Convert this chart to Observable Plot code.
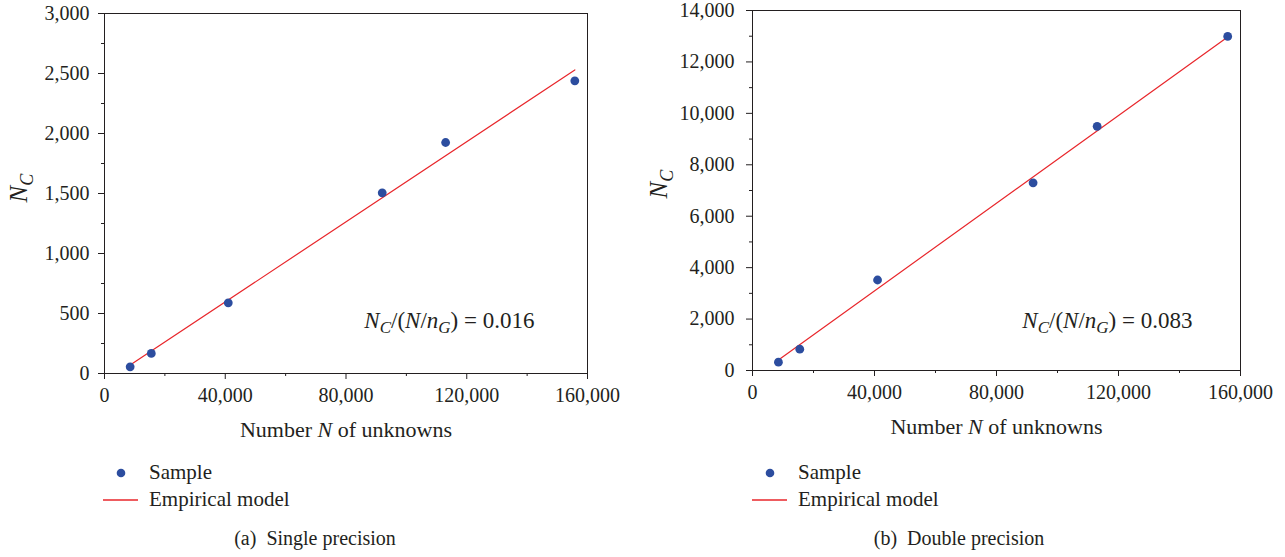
<!DOCTYPE html>
<html>
<head>
<meta charset="utf-8">
<script src="https://cdn.jsdelivr.net/npm/d3@7"></script>
<script src="https://cdn.jsdelivr.net/npm/@observablehq/plot@0.6"></script>
<style>
  html, body { margin: 0; padding: 0; background: #fff; }
  body { font-family: "Liberation Serif", "DejaVu Serif", serif; color: #231f20; }
  #wrap { position: relative; width: 1285px; height: 557px; overflow: hidden; }
  .panel { position: absolute; top: 0; }
  .legend { position: absolute; font-size: 21px; }
  .legend .row { display: flex; align-items: center; height: 27px; }
  .legend svg { margin-right: 7px; flex: none; }
  .caption { position: absolute; font-size: 20px; white-space: pre; transform: translateX(-50%); top: 527px; }
</style>
</head>
<body>
<div id="wrap"></div>
<script>
// ---------- data ----------
const sampleN      = [8500, 15500, 41000, 92000, 113000, 155800];
const singleNC     = [56, 167, 589, 1506, 1925, 2439];
const doubleNC     = [323, 828, 3519, 7298, 9497, 12991];
const modelN       = [8500, 155800];
const singleModel  = [70, 2530];
const doubleModel  = [410, 12970];
const xTicks       = [0, 40000, 80000, 120000, 160000];
const xMinor       = [20000, 60000, 100000, 140000];
const singleYTicks = [0, 500, 1000, 1500, 2000, 2500, 3000];
const singleYMinor = [250, 750, 1250, 1750, 2250, 2750];
const doubleYTicks = [0, 2000, 4000, 6000, 8000, 10000, 12000, 14000];
const doubleYMinor = [1000, 3000, 5000, 7000, 9000, 11000, 13000];
const legendLabels = ["Sample", "Empirical model"];
const captions     = ["(a)  Single precision", "(b)  Double precision"];
const ratioText    = ["0.016", "0.083"];

const DOT = "#2c4d9f", RED = "#e8262b", INK = "#231f20";
const fmt = d3.format(",");

function richify(svg, token, parts, subSize, shift) {
  svg.querySelectorAll("text").forEach(t => {
    if (t.textContent !== token) return;
    t.textContent = "";
    let inSub = false;
    parts.forEach(p => {
      const ts = document.createElementNS("http://www.w3.org/2000/svg", "tspan");
      ts.textContent = p.t;
      if (p.i) ts.setAttribute("font-style", "italic");
      if (p.sub) { ts.setAttribute("font-size", subSize + "px"); ts.setAttribute("dy", shift + "px"); inSub = true; }
      else if (inSub) { ts.setAttribute("dy", (-shift) + "px"); inSub = false; }
      t.appendChild(ts);
    });
  });
}

function panel(cfg) {
  const pts = sampleN.map((n, i) => ({n, nc: cfg.values[i]}));
  const mdl = modelN.map((n, i) => ({n, nc: cfg.model[i]}));
  const svg = Plot.plot({
    width: cfg.width, height: 445,
    marginLeft: cfg.ml, marginRight: cfg.mr, marginTop: cfg.mt, marginBottom: 445 - cfg.bottom,
    style: {fontFamily: "'Liberation Serif', serif", fontSize: "20px", color: INK, background: "white", overflow: "visible"},
    x: {domain: [0, 160000]},
    y: {domain: [0, cfg.yMax]},
    marks: [
      Plot.axisX({ticks: xTicks, tickSize: 6, tickPadding: 8, tickFormat: fmt, label: null, stroke: INK, fill: INK}),
      Plot.axisX({ticks: xMinor, tickSize: 3, tickFormat: () => "", label: null, stroke: INK}),
      Plot.axisY({ticks: cfg.yTicks, tickSize: 6, tickPadding: cfg.tp, tickFormat: fmt, label: null, stroke: INK, fill: INK}),
      Plot.axisY({ticks: cfg.yMinor, tickSize: 3, tickFormat: () => "", label: null, stroke: INK}),
      Plot.frame({stroke: INK, strokeWidth: 1}),
      Plot.line(mdl, {x: "n", y: "nc", stroke: RED, strokeWidth: 1.2}),
      Plot.dot(pts, {x: "n", y: "nc", r: 4.4, fill: DOT, stroke: null}),
      Plot.text(["@@YLABEL"], {frameAnchor: "left", rotate: -90, dx: cfg.yLabelDx, dy: cfg.yLabelDy, fill: INK, fontSize: 25, lineAnchor: "middle"}),
      Plot.text(["@@XLABEL"], {frameAnchor: "bottom", dy: cfg.xLabelDy, fill: INK, fontSize: 22, lineAnchor: "middle"}),
      Plot.text(["@@RATIO"], {frameAnchor: "bottom-right", dx: cfg.annDx, dy: cfg.annDy, textAnchor: "end", fill: INK, fontSize: 23, lineAnchor: "middle"})
    ]
  });
  richify(svg, "@@YLABEL", [{t: "N", i: true}, {t: "C", i: true, sub: true}], 18, 6);
  richify(svg, "@@XLABEL", [{t: "Number "}, {t: "N", i: true}, {t: " of unknowns"}], 16, 5);
  richify(svg, "@@RATIO", [{t: "N", i: true}, {t: "C", i: true, sub: true}, {t: "/("}, {t: "N", i: true}, {t: "/"}, {t: "n", i: true}, {t: "G", i: true, sub: true}, {t: ") = " + cfg.ratio}], 17, 5);
  return svg;
}

const wrap = document.getElementById("wrap");
const configs = [
  {left: 0, width: 640, ml: 104, mr: 53, mt: 13, bottom: 373, yMax: 3000, values: singleNC, model: singleModel,
   yTicks: singleYTicks, yMinor: singleYMinor, tp: 9, yLabelDx: -86, yLabelDy: 9, xLabelDy: 56, annDx: -53, annDy: -53, ratio: ratioText[0],
   legendLeft: 100, captionX: 315},
  {left: 640, width: 645, ml: 112, mr: 45, mt: 10, bottom: 370, yMax: 14000, values: doubleNC, model: doubleModel,
   yTicks: doubleYTicks, yMinor: doubleYMinor, tp: 12, yLabelDx: -94, yLabelDy: 8, xLabelDy: 56, annDx: -48, annDy: -50, ratio: ratioText[1],
   legendLeft: 749, captionX: 959}
];

configs.forEach((cfg, k) => {
  const div = document.createElement("div");
  div.className = "panel";
  div.style.left = cfg.left + "px";
  div.appendChild(panel(cfg));
  wrap.appendChild(div);

  const leg = document.createElement("div");
  leg.className = "legend";
  leg.style.left = cfg.legendLeft + "px";
  leg.style.top = "459px";
  legendLabels.forEach((lab, i) => {
    const row = document.createElement("div");
    row.className = "row";
    const sw = i === 0
      ? `<svg width="42" height="20"><circle cx="21" cy="10" r="4.3" fill="${DOT}"/></svg>`
      : `<svg width="42" height="20"><line x1="3" x2="38" y1="10" y2="10" stroke="${RED}" stroke-width="1.3"/></svg>`;
    row.innerHTML = sw + `<span>${lab}</span>`;
    leg.appendChild(row);
  });
  wrap.appendChild(leg);

  const cap = document.createElement("div");
  cap.className = "caption";
  cap.style.left = cfg.captionX + "px";
  cap.textContent = captions[k];
  wrap.appendChild(cap);
});
</script>
</body>
</html>
